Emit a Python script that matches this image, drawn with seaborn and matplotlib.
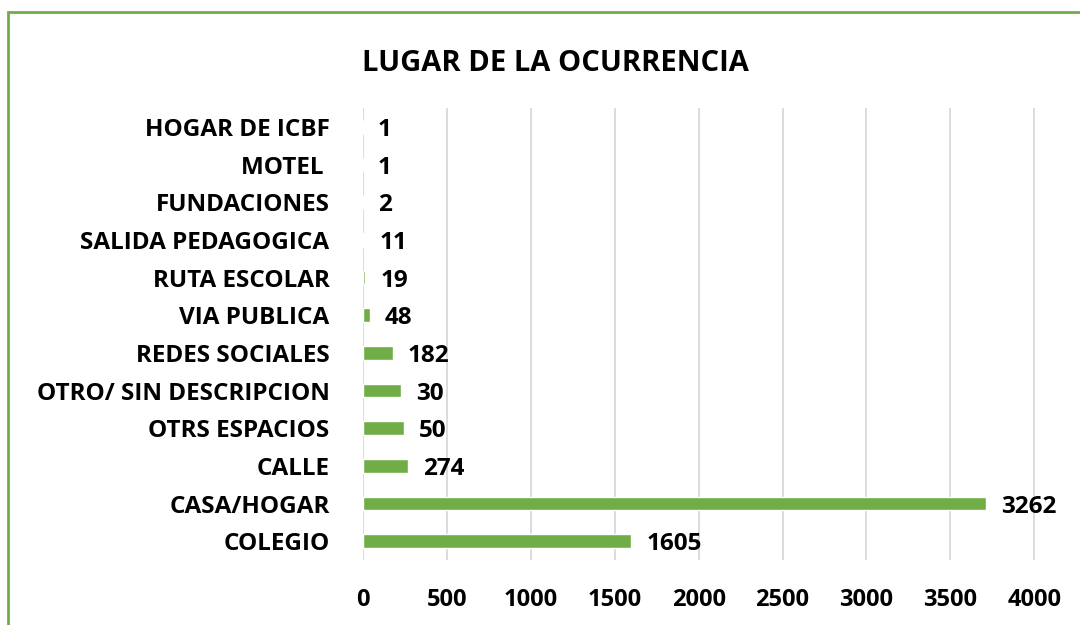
import matplotlib
matplotlib.use("Agg")
import matplotlib.pyplot as plt
import matplotlib.patches as mpatches
import seaborn as sns
import pandas as pd

# Datos del grafico (de arriba hacia abajo)
lugares = ["HOGAR DE ICBF", "MOTEL ", "FUNDACIONES", "SALIDA PEDAGOGICA",
           "RUTA ESCOLAR", "VIA PUBLICA", "REDES SOCIALES",
           "OTRO/ SIN DESCRIPCION", "OTRS ESPACIOS", "CALLE", "CASA/HOGAR",
           "COLEGIO"]
# largo de las barras tal como se ven
barras = [0, 0, 0, 8, 14, 42, 178, 226, 244, 268, 3710, 1600]
# etiquetas que muestra el grafico
etiquetas = ["1", "1", "2", "11", "19", "48", "182", "30", "50", "274", "3262", "1605"]
ticks_x = [0, 500, 1000, 1500, 2000, 2500, 3000, 3500, 4000]

df = pd.DataFrame({"Lugar": lugares, "Valor": barras, "Etiqueta": etiquetas})

sns.set_style("white")
plt.rcParams['font.family'] = ['Open Sans', 'DejaVu Sans']
plt.rcParams['text.color'] = 'black'
plt.rcParams['xtick.color'] = 'black'
plt.rcParams['ytick.color'] = 'black'
verde = "#70AD47"
fs = 17.5

fig = plt.figure(figsize=(10.8, 6.25), dpi=100)
ax = fig.add_axes([0.336, 0.104, 0.645, 0.723])

sns.barplot(data=df, x="Valor", y="Lugar", orient="h", color=verde,
            width=0.36, saturation=1, ax=ax)

for i, (v, t) in enumerate(zip(df["Valor"], df["Etiqueta"])):
    ax.text(v + 90, i + 0.08, t, va="center", ha="left",
            fontsize=fs, fontweight="bold", color="black")

ax.set_xlim(0, 4150)
ax.set_xticks(ticks_x)
ax.set_xticklabels([str(t) for t in ticks_x], fontsize=17, fontweight="bold")
for lbl in ax.get_yticklabels():
    lbl.set_fontsize(fs)
    lbl.set_fontweight("bold")
ax.tick_params(axis="x", length=0, pad=20, labelcolor="black")
ax.tick_params(axis="y", length=0, pad=24, labelcolor="black")
ax.set_xlabel("")
ax.set_ylabel("")
ax.grid(axis="x", color="#D9D9D9", linewidth=1.3)
ax.set_axisbelow(True)
for s in ax.spines.values():
    s.set_visible(False)

fig.text(0.514, 0.898, "LUGAR DE LA OCURRENCIA", ha="center", va="center",
         fontsize=21, fontweight="bold", color="black")

# marco verde
marco = mpatches.Rectangle((8 / 1080, -0.2), 1.5, 1.2 - 12 / 625,
                           transform=fig.transFigure, fill=False,
                           edgecolor=verde, linewidth=2)
fig.patches.append(marco)

plt.savefig("out.png", dpi=100)
